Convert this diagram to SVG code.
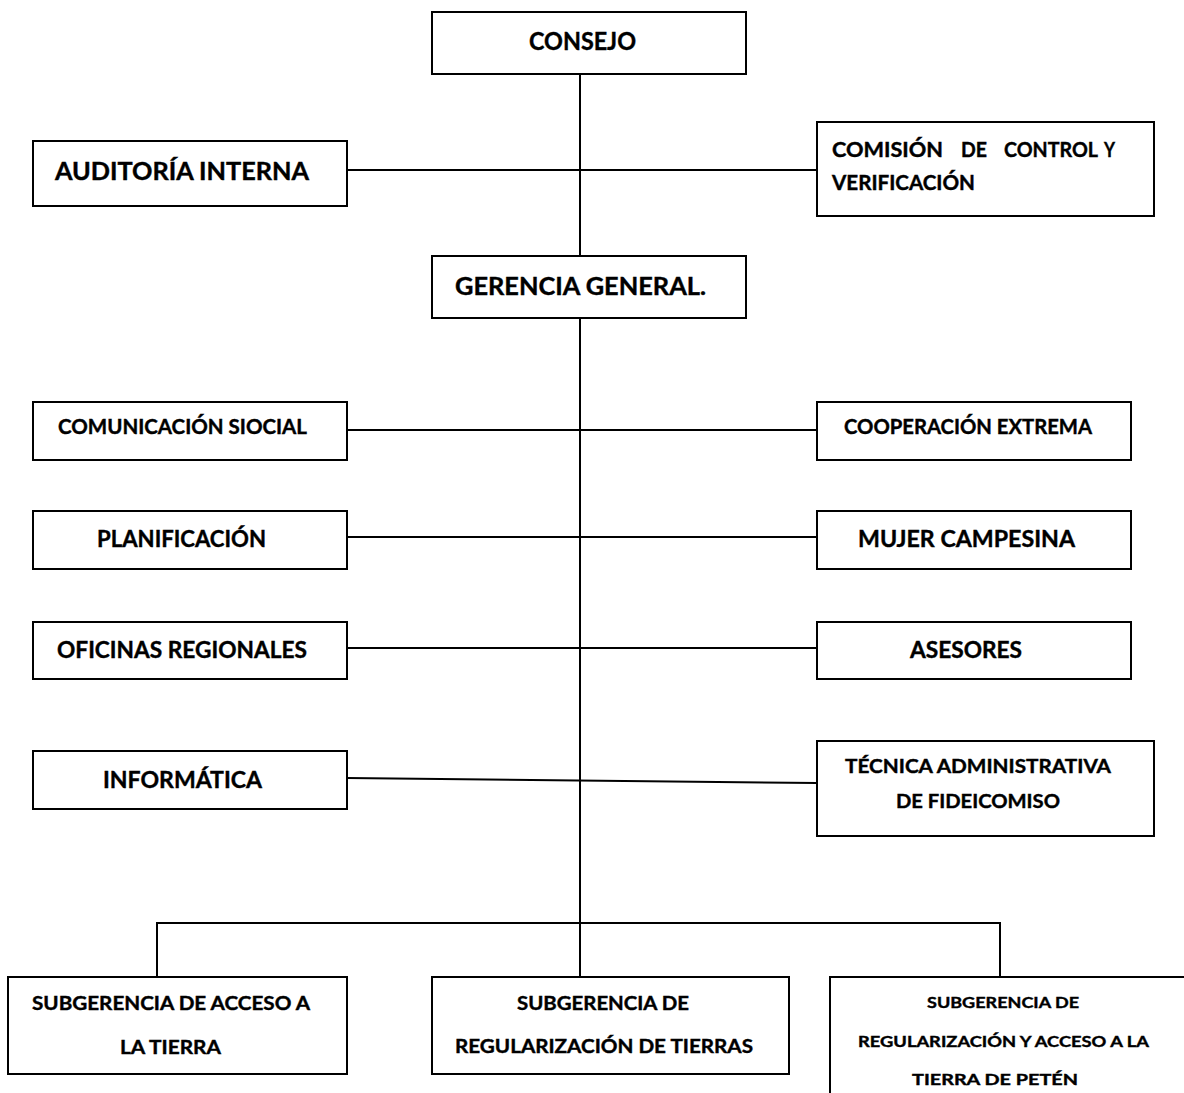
<svg xmlns="http://www.w3.org/2000/svg" width="1184" height="1093" viewBox="0 0 1184 1093">
<style>
.box{fill:#fff;stroke:#000;stroke-width:2}
.ln{fill:none;stroke:#000;stroke-width:2}
text{font-family:Lato,"Liberation Sans",Arial,sans-serif;font-weight:bold;fill:#000;stroke:#000;stroke-width:0.4}
.t25{font-size:25px}
.t23{font-size:23px}
.t20{font-size:20px}
.t19{font-size:19px}
.t18{font-size:18px}
.t16{font-size:16px}
</style>
<rect width="1184" height="1093" fill="#fff"/>
<g id="connectors">
<line class="ln" x1="580" y1="74" x2="580" y2="256"/>
<line class="ln" x1="580" y1="318" x2="580" y2="977"/>
<line class="ln" x1="347" y1="170" x2="817" y2="170"/>
<line class="ln" x1="347" y1="430" x2="817" y2="430"/>
<line class="ln" x1="347" y1="537" x2="817" y2="537"/>
<line class="ln" x1="347" y1="648" x2="817" y2="648"/>
<line class="ln" x1="347" y1="778" x2="817" y2="783"/>
<polyline class="ln" points="157,977 157,923 1000,923 1000,977"/>
</g>
<g id="consejo">
<rect class="box" x="432" y="12" width="314" height="62"/>
<text class="t25" x="529" y="50" textLength="107" lengthAdjust="spacingAndGlyphs">CONSEJO</text>
</g>
<g id="auditoria">
<rect class="box" x="33" y="141" width="314" height="65"/>
<text class="t25" x="55" y="180" textLength="254" lengthAdjust="spacingAndGlyphs">AUDITORÍA INTERNA</text>
</g>
<g id="comision">
<rect class="box" x="817" y="122" width="337" height="94"/>
<text class="t20"><tspan x="832" y="157" textLength="111" lengthAdjust="spacingAndGlyphs">COMISIÓN</tspan><tspan x="961" y="157" textLength="26" lengthAdjust="spacingAndGlyphs">DE</tspan><tspan x="1004" y="157" textLength="94" lengthAdjust="spacingAndGlyphs">CONTROL</tspan><tspan x="1104" y="157" textLength="11" lengthAdjust="spacingAndGlyphs">Y</tspan></text>
<text class="t20" x="832" y="190" textLength="143" lengthAdjust="spacingAndGlyphs">VERIFICACIÓN</text>
</g>
<g id="gerencia">
<rect class="box" x="432" y="256" width="314" height="62"/>
<text class="t25" x="455" y="295" textLength="251" lengthAdjust="spacingAndGlyphs">GERENCIA GENERAL.</text>
</g>
<g id="comunicacion">
<rect class="box" x="33" y="402" width="314" height="58"/>
<text class="t20" x="58" y="434" textLength="249" lengthAdjust="spacingAndGlyphs">COMUNICACIÓN SIOCIAL</text>
</g>
<g id="cooperacion">
<rect class="box" x="817" y="402" width="314" height="58"/>
<text class="t20" x="844" y="434" textLength="248" lengthAdjust="spacingAndGlyphs">COOPERACIÓN EXTREMA</text>
</g>
<g id="planificacion">
<rect class="box" x="33" y="511" width="314" height="58"/>
<text class="t23" x="97" y="547" textLength="169" lengthAdjust="spacingAndGlyphs">PLANIFICACIÓN</text>
</g>
<g id="mujer">
<rect class="box" x="817" y="511" width="314" height="58"/>
<text class="t23" x="858" y="547" textLength="217" lengthAdjust="spacingAndGlyphs">MUJER CAMPESINA</text>
</g>
<g id="oficinas">
<rect class="box" x="33" y="622" width="314" height="57"/>
<text class="t23" x="57" y="658" textLength="250" lengthAdjust="spacingAndGlyphs">OFICINAS REGIONALES</text>
</g>
<g id="asesores">
<rect class="box" x="817" y="622" width="314" height="57"/>
<text class="t23" x="910" y="658" textLength="112" lengthAdjust="spacingAndGlyphs">ASESORES</text>
</g>
<g id="informatica">
<rect class="box" x="33" y="751" width="314" height="58"/>
<text class="t23" x="103" y="788" textLength="159" lengthAdjust="spacingAndGlyphs">INFORMÁTICA</text>
</g>
<g id="tecnica">
<rect class="box" x="817" y="741" width="337" height="95"/>
<text class="t19" x="845" y="773" textLength="266" lengthAdjust="spacingAndGlyphs">TÉCNICA ADMINISTRATIVA</text>
<text class="t19" x="896" y="808" textLength="164" lengthAdjust="spacingAndGlyphs">DE FIDEICOMISO</text>
</g>
<g id="sub-acceso">
<rect class="box" x="8" y="977" width="339" height="97"/>
<text class="t19" x="32" y="1010" textLength="278" lengthAdjust="spacingAndGlyphs">SUBGERENCIA DE ACCESO A</text>
<text class="t19" x="120" y="1054" textLength="101" lengthAdjust="spacingAndGlyphs">LA TIERRA</text>
</g>
<g id="sub-regularizacion">
<rect class="box" x="432" y="977" width="357" height="97"/>
<text class="t19" x="517" y="1010" textLength="172" lengthAdjust="spacingAndGlyphs">SUBGERENCIA DE</text>
<text class="t19" x="455" y="1053" textLength="298" lengthAdjust="spacingAndGlyphs">REGULARIZACIÓN DE TIERRAS</text>
</g>
<g id="sub-peten">
<rect class="box" x="830" y="977" width="360" height="130"/>
<text class="t16" x="927" y="1008" textLength="152" lengthAdjust="spacingAndGlyphs">SUBGERENCIA DE</text>
<text class="t16" x="858" y="1047" textLength="291" lengthAdjust="spacingAndGlyphs">REGULARIZACIÓN Y ACCESO A LA</text>
<text class="t16" x="912" y="1085" textLength="166" lengthAdjust="spacingAndGlyphs">TIERRA DE PETÉN</text>
</g>
</svg>
